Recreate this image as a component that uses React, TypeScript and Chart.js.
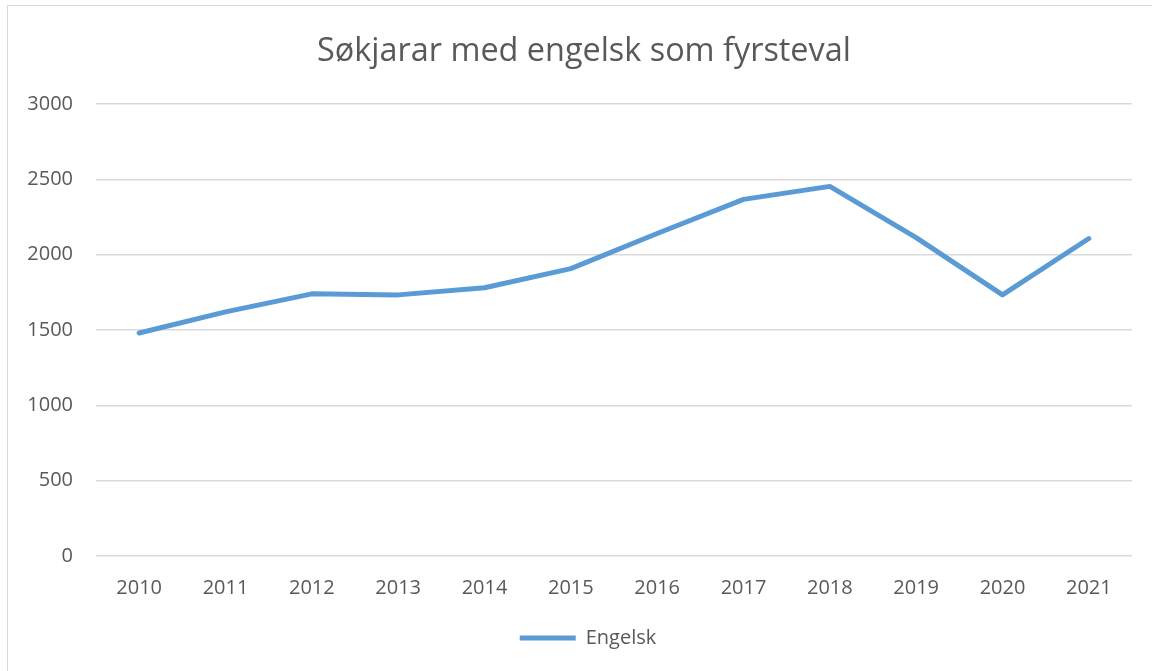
import React, { useEffect, useRef } from "react";
import { Chart, registerables } from "chart.js";

Chart.register(...registerables);

const TITLE = "Søkjarar med engelsk som fyrsteval";
const YEARS = ["2010", "2011", "2012", "2013", "2014", "2015", "2016", "2017", "2018", "2019", "2020", "2021"];
const SERIES_NAME = "Engelsk";
const ENGELSK = [1480, 1620, 1740, 1733, 1780, 1907, 2140, 2367, 2453, 2113, 1733, 2107];
const Y_MIN = 0;
const Y_MAX = 3000;
const Y_STEP = 500;

const FONT = "'Open Sans', 'Liberation Sans', sans-serif";
const TEXT = "#595959";
const GRID = "#d9d9d9";
const LINE = "#5b9bd5";

const boxShift = {
  id: "boxShift",
  afterLayout(chart: any) {
    if (chart.legend) {
      chart.legend.left += 44;
    }
    if (chart.titleBlock) {
      chart.titleBlock.left += 36;
    }
  },
};

export default function App() {
  const ref = useRef<HTMLCanvasElement | null>(null);

  useEffect(() => {
    document.body.style.margin = "0";
    const canvas = ref.current;
    if (!canvas) return;
    const chart = new Chart(canvas, {
      type: "line",
      data: {
        labels: YEARS,
        datasets: [
          {
            label: SERIES_NAME,
            data: ENGELSK,
            borderColor: LINE,
            backgroundColor: LINE,
            borderWidth: 5,
            borderCapStyle: "round",
            borderJoinStyle: "round",
            pointRadius: 0,
            pointHoverRadius: 0,
            tension: 0,
            fill: false,
          },
        ],
      },
      plugins: [boxShift],
      options: {
        animation: false,
        responsive: false,
        maintainAspectRatio: false,
        layout: { padding: { left: 0, right: 20, top: 0, bottom: 13 } },
        plugins: {
          title: {
            display: true,
            text: TITLE,
            color: TEXT,
            font: { family: FONT, size: 32.4, weight: "normal" },
            padding: { top: 32, bottom: 33.1 },
          },
          legend: {
            display: true,
            position: "bottom",
            labels: {
              color: TEXT,
              font: { family: FONT, size: 20 },
              usePointStyle: true,
              pointStyle: "line",
              pointStyleWidth: 56,
              padding: 10,
            },
          },
          tooltip: { enabled: false },
        },
        scales: {
          x: {
            offset: true,
            grid: { display: false, drawTicks: false },
            border: { display: false },
            ticks: {
              color: TEXT,
              font: { family: FONT, size: 20 },
              padding: 20,
              maxRotation: 0,
              autoSkip: false,
            },
            afterFit: (scale: any) => {
              scale.height = 62;
            },
          },
          y: {
            min: Y_MIN,
            max: Y_MAX,
            grid: { color: GRID, lineWidth: 1.5, drawTicks: false },
            border: { display: false },
            ticks: {
              stepSize: Y_STEP,
              color: TEXT,
              font: { family: FONT, size: 20 },
              padding: 23,
              callback: (v: any) => String(v),
            },
            afterFit: (scale: any) => {
              scale.width = 96;
            },
          },
        },
      },
    });
    return () => chart.destroy();
  }, []);

  return (
    <div style={{ position: "relative", width: 1152, height: 671, background: "#fff", overflow: "hidden" }}>
      <div
        style={{
          position: "absolute",
          left: 7,
          top: 5,
          width: 1160,
          height: 700,
          border: "1.5px solid #d9d9d9",
          boxSizing: "border-box",
        }}
      />
      <canvas ref={ref} width={1152} height={671} style={{ position: "absolute", left: 0, top: 0, width: 1152, height: 671 }} />
    </div>
  );
}
